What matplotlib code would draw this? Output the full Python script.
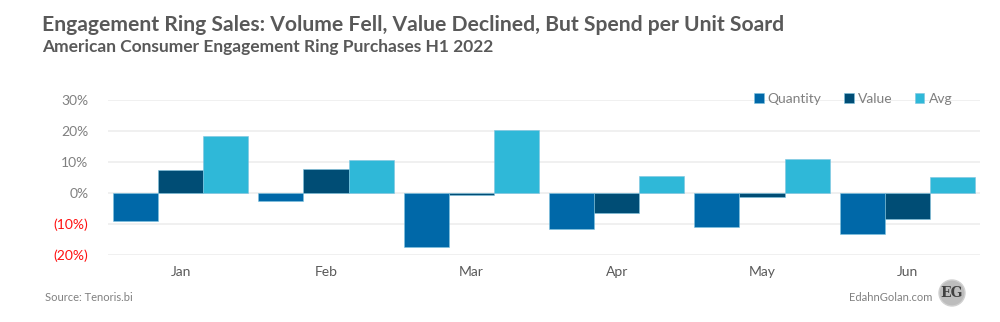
import numpy as np
import matplotlib.pyplot as plt
from matplotlib.patches import Circle

# data (percent change)
months = ['Jan', 'Feb', 'Mar', 'Apr', 'May', 'Jun']
quantity = [-9.0, -2.5, -17.4, -11.6, -11.0, -13.2]
value = [7.4, 7.7, -0.7, -6.5, -1.3, -8.4]
avg = [18.4, 10.6, 20.3, 5.6, 11.0, 5.3]
series_names = ['Quantity', 'Value', 'Avg']
colors = ['#0068A8', '#004D75', '#2FB8D8']
yticks = [-20, -10, 0, 10, 20, 30]

plt.rcParams['font.family'] = ['Lato', 'DejaVu Sans']

fig = plt.figure(figsize=(10, 3.22), dpi=100)
ax = fig.add_axes([0.108, 0.208, 0.872, 0.481])

x = np.arange(len(months))
w = 0.31
for i, (vals, c, name) in enumerate(zip([quantity, value, avg], colors, series_names)):
    ax.bar(x + (i - 1) * w, vals, w, color=c, edgecolor='#7FC4E0', linewidth=0.4,
           label=name, zorder=3)

ax.set_xlim(-0.5, len(months) - 0.5)
ax.set_ylim(-20, 30)
ax.set_yticks(yticks)
ax.set_yticklabels([f'({abs(t)}%)' if t < 0 else f'{t}%' for t in yticks])
for lab, t in zip(ax.get_yticklabels(), yticks):
    lab.set_color('#FF1010' if t < 0 else '#808080')
ax.set_xticks(x)
ax.set_xticklabels(months, color='#595959')
ax.tick_params(axis='both', length=0, labelsize=10)
ax.tick_params(axis='y', pad=14)
ax.tick_params(axis='x', pad=8)
ax.grid(axis='y', color='#EEEEEE', linewidth=1.2, zorder=0)
ax.set_axisbelow(True)
for s in ax.spines.values():
    s.set_visible(False)

leg = ax.legend(loc='upper right', bbox_to_anchor=(0.968, 1.045), ncol=3, frameon=False,
                fontsize=10, handlelength=0.7, handleheight=0.7, columnspacing=1.6,
                handletextpad=0.3, borderpad=0, borderaxespad=0)
for t in leg.get_texts():
    t.set_color('#808080')

fig.text(0.042, 0.905, 'Engagement Ring Sales: Volume Fell, Value Declined, But Spend per Unit Soard',
         fontsize=15.2, fontweight='bold', color='#595959')
fig.text(0.042, 0.84, 'American Consumer Engagement Ring Purchases H1 2022',
         fontsize=12.5, fontweight='bold', color='#595959')
fig.text(0.045, 0.065, 'Source: Tenoris.bi', fontsize=8, color='#808080')
fig.text(0.932, 0.065, 'EdahnGolan.com', fontsize=8, color='#808080', ha='right')

circ = Circle((9.52, 0.29), 0.13, transform=fig.dpi_scale_trans, facecolor='#BDBDBD',
              edgecolor='#D0D0D0', clip_on=False)
fig.patches.append(circ)
fig.text(0.952, 0.09, 'EG', fontsize=10, color='#404040', ha='center', va='center',
         family='DejaVu Serif', fontweight='bold')

fig.savefig('out.png', dpi=100, facecolor='white')
